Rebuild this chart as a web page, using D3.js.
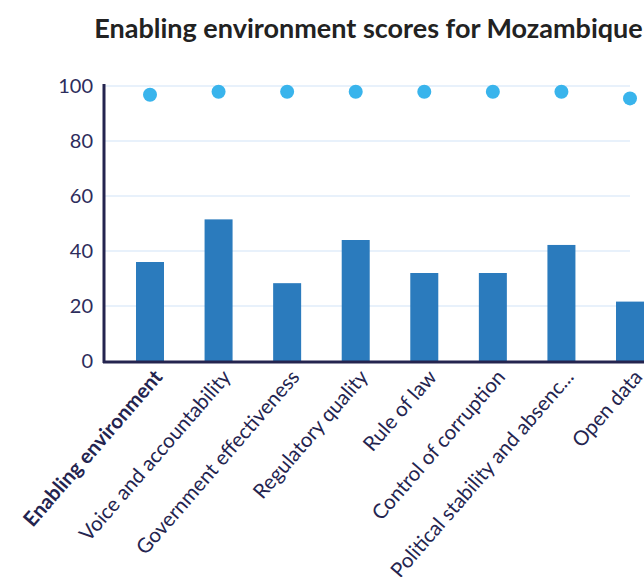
<!DOCTYPE html>
<html><head><meta charset="utf-8">
<script src="https://cdn.jsdelivr.net/npm/d3@7"></script>
<style>body{margin:0;background:#fff;} svg{display:block;}</style>
</head><body>
<script>
const categories = ["Enabling environment","Voice and accountability","Government effectiveness","Regulatory quality","Rule of law","Control of corruption","Political stability and absenc...","Open data"];
const scores = [36, 51.5, 28.3, 44, 32, 32, 42.2, 21.6];
const maxScores = [96.8, 97.9, 97.9, 97.9, 97.9, 97.9, 97.9, 95.5];
const yTicks = [0, 20, 40, 60, 80, 100];
const title = "Enabling environment scores for Mozambique";

const W = 644, H = 577;
const svg = d3.select("body").append("svg").attr("width", W).attr("height", H);
const font = "Lato, 'Open Sans', sans-serif";
const navy = "#24244f";

const x = d3.scalePoint().domain(categories).range([150, 630]);
const y = d3.scaleLinear().domain([0, 100]).range([361, 86]);

svg.append("text").attr("x", 368.5).attr("y", 38).attr("text-anchor", "middle")
  .attr("font-family", font).attr("font-weight", "bold").attr("font-size", 27)
  .attr("fill", "#222").text(title);

// gridlines
svg.append("g").selectAll("line").data(yTicks.filter(d => d > 0)).join("line")
  .attr("x1", 104).attr("x2", 630).attr("y1", d => y(d)).attr("y2", d => y(d))
  .attr("stroke", "#e8f1fb").attr("stroke-width", 2);

// y axis
const yAxis = svg.append("g").attr("transform", "translate(103,0)")
  .call(d3.axisLeft(y).tickValues(yTicks).tickSize(0).tickPadding(10));
yAxis.select(".domain").remove();
yAxis.selectAll("text").attr("font-family", font).attr("font-size", 20).attr("fill", "#2d2d5c");

// bars
const bw = 28;
svg.append("g").selectAll("rect").data(scores).join("rect")
  .attr("x", (d, i) => x(categories[i]) - bw / 2).attr("width", bw)
  .attr("y", d => y(d)).attr("height", d => y(0) - y(d))
  .attr("fill", "#2b7bbd");

// dots
svg.append("g").selectAll("circle").data(maxScores).join("circle")
  .attr("cx", (d, i) => x(categories[i])).attr("cy", d => y(d)).attr("r", 7)
  .attr("fill", "#39b4ec");

// axis lines
svg.append("line").attr("x1", 104).attr("x2", 104).attr("y1", 84).attr("y2", 363)
  .attr("stroke", navy).attr("stroke-width", 3);
svg.append("line").attr("x1", 103).attr("x2", 644).attr("y1", 362).attr("y2", 362)
  .attr("stroke", navy).attr("stroke-width", 3);

// x labels
svg.append("g").selectAll("text").data(categories).join("text")
  .attr("transform", d => `translate(${x(d) + 8},${373}) rotate(-49)`)
  .attr("text-anchor", "end").attr("dy", "0.35em")
  .attr("font-family", font).attr("font-size", 20.5)
  .attr("font-weight", (d, i) => i === 0 ? "bold" : "normal")
  .attr("fill", navy).text(d => d);
</script>
</body></html>
